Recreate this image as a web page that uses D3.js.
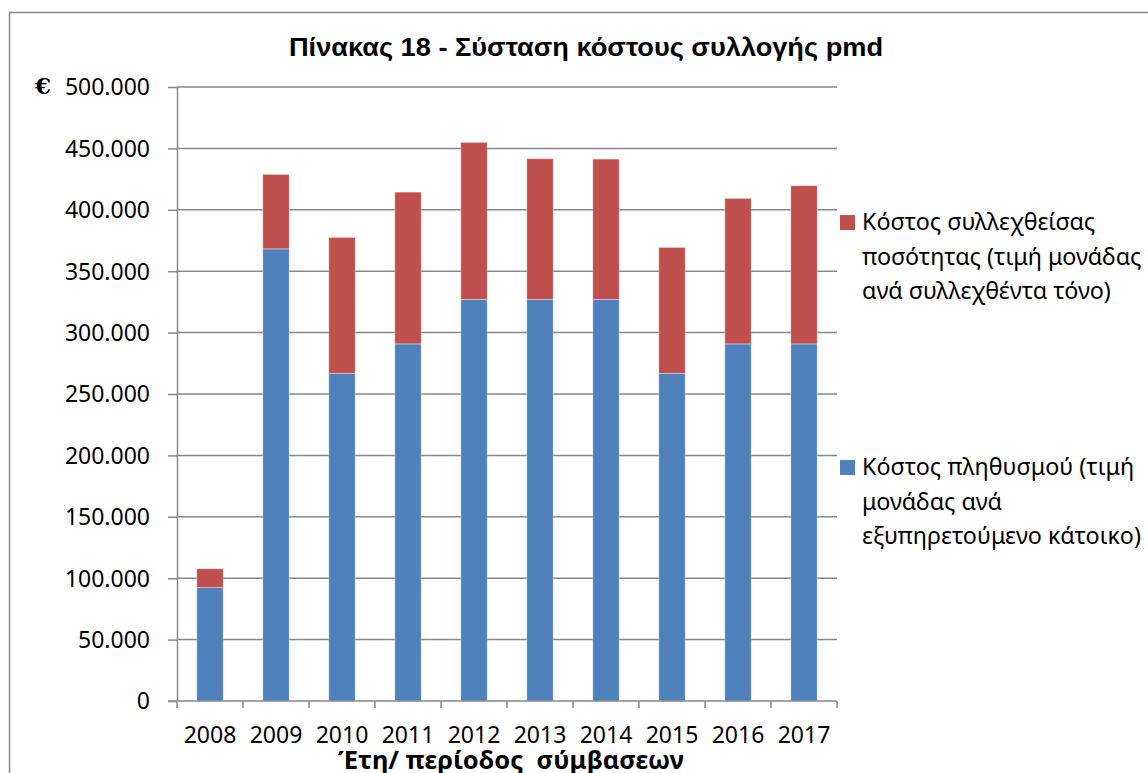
<!DOCTYPE html>
<html lang="el">
<head>
<meta charset="utf-8">
<title>Πίνακας 18</title>
<script src="https://d3js.org/d3.v7.min.js"></script>
<style>
  body { margin: 0; background: #fff; }
  svg { display: block; }
</style>
</head>
<body>
<div id="chart"></div>
<script>
// data
var years = ["2008", "2009", "2010", "2011", "2012", "2013", "2014", "2015", "2016", "2017"];
var populationCost = [92300, 368200, 266700, 290800, 327000, 327000, 327000, 266700, 290800, 290800];
var quantityCost = [15400, 60600, 110800, 123600, 127900, 114600, 114300, 102700, 118500, 128800];
var yTicks = [0, 50000, 100000, 150000, 200000, 250000, 300000, 350000, 400000, 450000, 500000];
var seriesNames = ["Κόστος πληθυσμού (τιμή μονάδας ανά εξυπηρετούμενο κάτοικο)",
                   "Κόστος συλλεχθείσας ποσότητας (τιμή μονάδας ανά συλλεχθέντα τόνο)"];
var legendLines = [
  ["Κόστος συλλεχθείσας", "ποσότητας (τιμή μονάδας", "ανά συλλεχθέντα τόνο)"],
  ["Κόστος πληθυσμού (τιμή", "μονάδας ανά", "εξυπηρετούμενο κάτοικο)"]
];
var colors = ["#4F81BD", "#C0504D"];

var W = 1148, H = 773;
var margin = {top: 87, right: 311, bottom: 72, left: 177};
var width = W - margin.left - margin.right,
    height = H - margin.top - margin.bottom;

var font = "'Noto Sans', 'Open Sans', sans-serif";
var gridColor = "#878787";

var svg = d3.select("#chart").append("svg")
    .attr("width", W)
    .attr("height", H);

// chart area border
svg.append("rect")
    .attr("x", 9.5).attr("y", 12.5)
    .attr("width", W + 20).attr("height", H + 20)
    .attr("fill", "none")
    .attr("stroke", gridColor)
    .attr("stroke-width", 1.5);

var table = years.map(function(y, i) {
  return {year: y, pop: populationCost[i], qty: quantityCost[i]};
});
var stack = d3.stack().keys(["pop", "qty"])(table);

var x = d3.scaleBand().domain(years).range([0, width]).paddingInner(0.6).paddingOuter(0.3);
var xEdge = d3.scaleLinear().domain([0, years.length]).range([0, width]);
var y = d3.scaleLinear().domain([0, 500000]).range([height, 0]);

var g = svg.append("g")
    .attr("transform", "translate(" + margin.left + "," + margin.top + ")");

// gridlines
g.append("g")
  .selectAll("line")
  .data(yTicks.slice(1))
  .enter().append("line")
    .attr("x1", 0).attr("x2", width)
    .attr("y1", function(d) { return y(d); })
    .attr("y2", function(d) { return y(d); })
    .attr("stroke", gridColor)
    .attr("stroke-width", 1.5);

// bars
g.selectAll(".series")
  .data(stack)
  .enter().append("g")
    .attr("fill", function(d, i) { return colors[i]; })
  .selectAll("rect")
  .data(function(d) { return d; })
  .enter().append("rect")
    .attr("x", function(d) { return x(d.data.year); })
    .attr("y", function(d) { return y(d[1]); })
    .attr("width", x.bandwidth())
    .attr("height", function(d) { return y(d[0]) - y(d[1]); })
    .attr("stroke", "rgba(255,255,255,0.45)")
    .attr("stroke-width", 0.8);

// y axis
var yAxis = g.append("g")
    .call(d3.axisLeft(y).tickValues(yTicks).tickSize(9).tickSizeOuter(0)
      .tickFormat(function(d) { return d3.format(",")(d).replace(/,/g, "."); }));
yAxis.select(".domain").attr("stroke", gridColor).attr("stroke-width", 1.5);
yAxis.selectAll(".tick line").attr("stroke", gridColor).attr("stroke-width", 1.5);
yAxis.selectAll(".tick text")
    .attr("x", -27)
    .attr("dy", "0.34em")
    .style("font-family", font)
    .style("font-size", "23px")
    .attr("fill", "#000");

// x axis
var xAxis = g.append("g")
    .attr("transform", "translate(0," + height + ")");
xAxis.append("line")
    .attr("x1", -9).attr("x2", width)
    .attr("stroke", gridColor).attr("stroke-width", 1.5);
xAxis.selectAll(".xtick")
  .data(d3.range(years.length + 1))
  .enter().append("line")
    .attr("x1", function(d) { return xEdge(d); })
    .attr("x2", function(d) { return xEdge(d); })
    .attr("y1", 0).attr("y2", 7)
    .attr("stroke", gridColor).attr("stroke-width", 1.5);
xAxis.selectAll(".xlabel")
  .data(years)
  .enter().append("text")
    .attr("x", function(d) { return x(d) + x.bandwidth() / 2; })
    .attr("y", 42)
    .attr("text-anchor", "middle")
    .style("font-family", font)
    .style("font-size", "23px")
    .text(function(d) { return d; });

// x axis title
svg.append("text")
    .attr("x", 511)
    .attr("y", 769)
    .attr("text-anchor", "middle")
    .style("font-family", font)
    .style("font-size", "25.5px")
    .style("font-weight", "bold")
    .style("white-space", "pre")
    .text("Έτη/ περίοδος  σύμβασεων");

// euro sign
svg.append("text")
    .attr("x", 43)
    .attr("y", 94)
    .attr("text-anchor", "middle")
    .style("font-family", "'DejaVu Serif', 'Liberation Serif', serif")
    .style("font-size", "23px")
    .style("font-weight", "bold")
    .text("€");

// title
svg.append("text")
    .attr("x", 586)
    .attr("y", 55.5)
    .attr("text-anchor", "middle")
    .attr("textLength", 594)
    .attr("lengthAdjust", "spacingAndGlyphs")
    .style("font-family", "'Liberation Sans', Arial, sans-serif")
    .style("font-size", "25px")
    .style("font-weight", "bold")
    .text("Πίνακας 18 - Σύσταση κόστους συλλογής pmd");

// legend
var legendY = [215, 460];
var legend = svg.append("g");
legendLines.forEach(function(lines, i) {
  var gi = legend.append("g").attr("transform", "translate(840," + legendY[i] + ")");
  gi.append("rect")
      .attr("width", 15).attr("height", 15)
      .attr("fill", colors[1 - i]);
  gi.append("title").text(seriesNames[1 - i]);
  gi.selectAll("text")
    .data(lines)
    .enter().append("text")
      .attr("x", 22)
      .attr("y", function(d, k) { return 15 + k * 34.5; })
      .style("font-family", font)
      .style("font-size", "23.3px")
      .text(function(d) { return d; });
});
</script>
</body>
</html>
